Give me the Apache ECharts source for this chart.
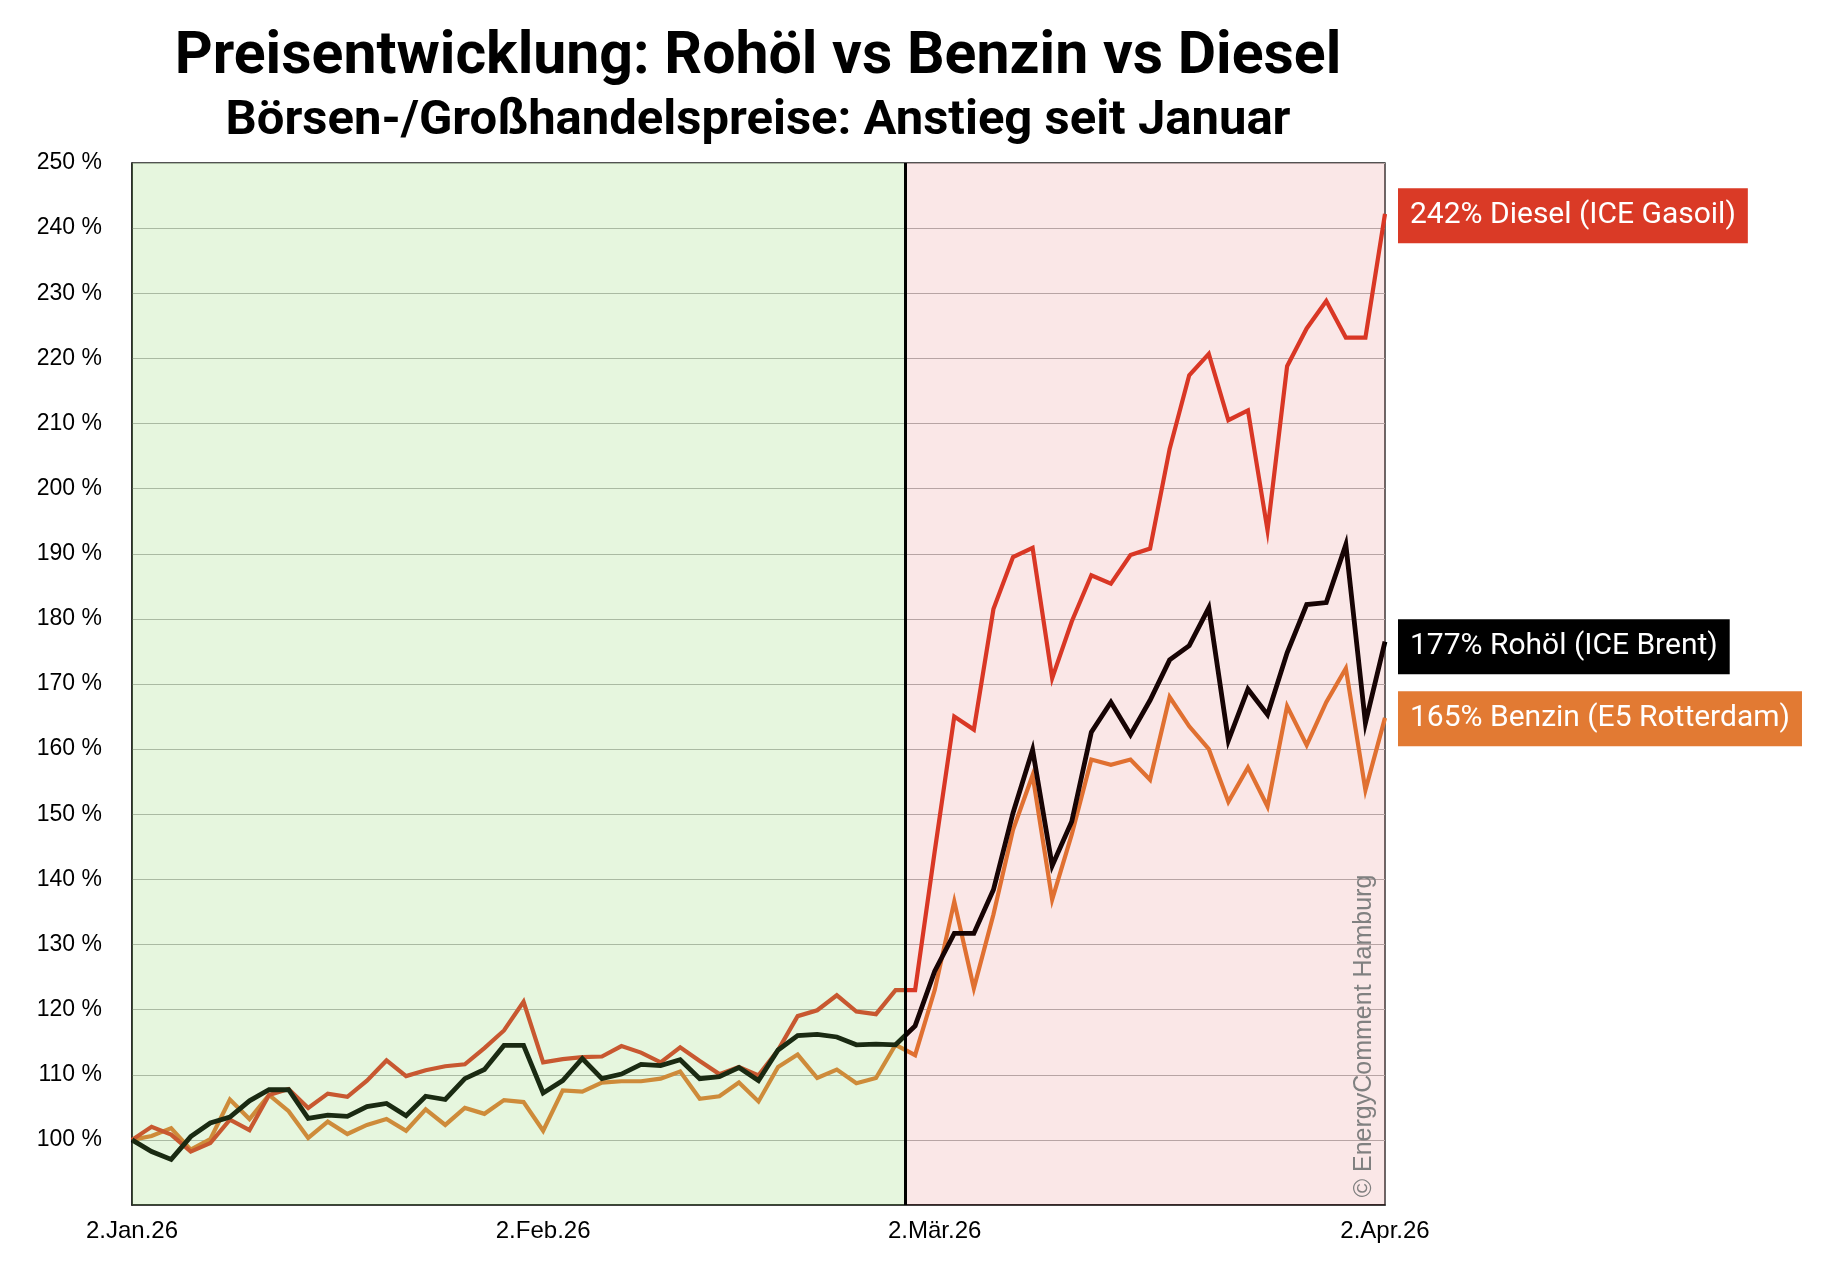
<!DOCTYPE html>
<html><head><meta charset="utf-8">
<script src="https://cdn.jsdelivr.net/npm/echarts@6/dist/echarts.min.js"></script>
<style>html,body{margin:0;padding:0;background:#fff}#c{width:1824px;height:1268px}</style>
</head><body><div id="c"></div>
<script>
// ---- data ----
const dates = [
  '2.Jan.26','5.Jan.26','6.Jan.26','7.Jan.26','8.Jan.26','9.Jan.26',
  '12.Jan.26','13.Jan.26','14.Jan.26','15.Jan.26','16.Jan.26',
  '19.Jan.26','20.Jan.26','21.Jan.26','22.Jan.26','23.Jan.26',
  '26.Jan.26','27.Jan.26','28.Jan.26','29.Jan.26','30.Jan.26',
  '2.Feb.26','3.Feb.26','4.Feb.26','5.Feb.26','6.Feb.26',
  '9.Feb.26','10.Feb.26','11.Feb.26','12.Feb.26','13.Feb.26',
  '16.Feb.26','17.Feb.26','18.Feb.26','19.Feb.26','20.Feb.26',
  '23.Feb.26','24.Feb.26','25.Feb.26','26.Feb.26','27.Feb.26',
  '2.Mär.26','3.Mär.26','4.Mär.26','5.Mär.26','6.Mär.26',
  '9.Mär.26','10.Mär.26','11.Mär.26','12.Mär.26','13.Mär.26',
  '16.Mär.26','17.Mär.26','18.Mär.26','19.Mär.26','20.Mär.26',
  '23.Mär.26','24.Mär.26','25.Mär.26','26.Mär.26','27.Mär.26',
  '30.Mär.26','31.Mär.26','1.Apr.26','2.Apr.26'
];
const diesel = [
  100, 102.0, 100.8, 98.2, 99.5, 103.1, 101.5, 106.9, 107.8, 104.9, 107.1,
  106.6, 109.1, 112.2, 109.8, 110.7, 111.3, 111.6, 114.1, 116.8, 121.2,
  111.9, 112.4, 112.7, 112.8, 114.4, 113.4, 111.9, 114.2, 112.1, 110.1,
  111.2, 109.9, 113.8, 119.0, 119.9, 122.2, 119.7, 119.3, 123.0, 123.0,
  144.3, 165.0, 163.0, 181.5, 189.5, 190.9, 170.9, 179.6, 186.7, 185.4,
  189.8, 190.8, 206.1, 217.4, 220.7, 210.5, 212.0, 193.6, 218.8, 224.6,
  228.8, 223.2, 223.2, 242.2
];
const rohoel = [
  100, 98.2, 97.0, 100.5, 102.6, 103.5, 106.0, 107.7, 107.7, 103.3, 103.8,
  103.6, 105.1, 105.6, 103.7, 106.7, 106.2, 109.4, 110.8, 114.5, 114.5,
  107.2, 109.1, 112.5, 109.4, 110.1, 111.6, 111.4, 112.3, 109.4, 109.7,
  111.1, 109.1, 113.8, 116.0, 116.2, 115.8, 114.6, 114.7, 114.6, 117.5,
  125.9, 131.7, 131.7, 138.4, 150.2, 159.9, 142.1, 148.9, 162.6, 167.2,
  162.2, 167.5, 173.7, 175.9, 181.7, 161.3, 169.2, 165.3, 174.8, 182.2,
  182.5, 191.4, 164.0, 176.5
];
const benzin = [
  100, 100.6, 101.8, 98.5, 100.1, 106.2, 103.2, 106.9, 104.4, 100.3, 102.8,
  100.9, 102.3, 103.2, 101.4, 104.7, 102.3, 104.9, 104.0, 106.1, 105.8,
  101.4, 107.6, 107.4, 108.8, 109.0, 109.0, 109.4, 110.5, 106.3, 106.7,
  108.8, 105.9, 111.2, 113.1, 109.5, 110.8, 108.7, 109.5, 114.6, 113.0,
  123.0, 136.6, 123.3, 134.6, 147.6, 156.0, 136.9, 146.9, 158.4, 157.6,
  158.4, 155.3, 168.0, 163.5, 160.0, 151.9, 157.2, 151.2, 166.6, 160.6,
  167.2, 172.4, 153.7, 164.8
];
const seriesNames = ['Benzin (E5 Rotterdam)', 'Diesel (ICE Gasoil)', 'Rohöl (ICE Brent)'];
const titleText = 'Preisentwicklung: Rohöl vs Benzin vs Diesel';
const subtitleText = 'Börsen-/Großhandelspreise: Anstieg seit Januar';
const watermarkText = '© EnergyComment Hamburg';
const phaseBoundary = 39.5; // category position between 26.Feb and 27.Feb
const lastIndex = dates.length - 1;

// ---- chart ----
const COL_DIESEL = '#da3a26', COL_BENZIN = '#e27a33', COL_ROH = '#000000';
const chart = echarts.init(document.getElementById('c'));

function lineSeries(name, data, color, width, z, labelShift) {
  return {
    name, type: 'line', data, xAxisIndex: 0, yAxisIndex: 0,
    showSymbol: false, symbol: 'none', z,
    lineStyle: { color, width, join: 'miter' },
    itemStyle: { color },
    endLabel: {
      show: true, distance: 13, offset: [0, labelShift],
      formatter: p => Math.round(p.value) + '% ' + name,
      color: '#fff', backgroundColor: color,
      fontFamily: 'Roboto', fontSize: 30, lineHeight: 35,
      padding: [10, 12, 10, 12]
    },
    animation: false
  };
}

chart.setOption({
  animation: false,
  backgroundColor: '#ffffff',
  grid: { left: 132, top: 163, width: 1253, height: 1042, show: true,
          borderColor: '#1a1a1a', borderWidth: 1.3, backgroundColor: 'transparent' },
  xAxis: [{
    type: 'category', data: dates, boundaryGap: false,
    axisLine: { show: true, lineStyle: { color: '#1a1a1a', width: 1.5 } },
    axisTick: { show: false },
    axisLabel: {
      interval: (i, v) => v.startsWith('2.'),
      color: '#000', fontFamily: 'Liberation Sans', fontSize: 24, margin: 14
    },
    splitLine: { show: false }
  }, {
    type: 'value', min: 0, max: lastIndex, show: false
  }],
  yAxis: {
    type: 'value', min: 90, max: 250, interval: 10,
    axisLine: { show: true, lineStyle: { color: '#1a1a1a', width: 1.5 } },
    axisTick: { show: false },
    axisLabel: {
      formatter: v => v < 100 ? '' : v + ' %',
      color: '#000', fontFamily: 'Liberation Sans', fontSize: 23, margin: 30
    },
    splitLine: { show: true, lineStyle: { color: '#b4b4b4', width: 1.2 } }
  },
  series: [
    lineSeries(seriesNames[0], benzin, COL_BENZIN, 4.2, 2, 1),
    lineSeries(seriesNames[1], diesel, COL_DIESEL, 4.2, 3, 2),
    lineSeries(seriesNames[2], rohoel, COL_ROH, 4.8, 4, 5),
    {
      type: 'line', data: [], xAxisIndex: 1, yAxisIndex: 0, z: 10, silent: true,
      markArea: {
        silent: true, z: 10,
        data: [
          [{ xAxis: 0, itemStyle: { color: 'rgba(130,210,90,0.2)' } }, { xAxis: phaseBoundary }],
          [{ xAxis: phaseBoundary, itemStyle: { color: 'rgba(205,40,40,0.11)' } }, { xAxis: lastIndex }]
        ]
      },
      markLine: {
        silent: true, z: 11, symbol: 'none', label: { show: false },
        lineStyle: { color: '#000', width: 3, type: 'solid' },
        data: [{ xAxis: phaseBoundary }]
      }
    }
  ],
  graphic: [
    { type: 'text', x: 758, y: 58, style: { text: titleText, fill: '#000',
      font: 'bold 59px Roboto', textAlign: 'center', textVerticalAlign: 'middle' } },
    { type: 'text', x: 758, y: 122, style: { text: subtitleText, fill: '#000',
      font: 'bold 49px Roboto', textAlign: 'center', textVerticalAlign: 'middle' } },
    { type: 'text', x: 1364, y: 1036, rotation: Math.PI / 2, z: 20,
      style: { text: watermarkText, fill: '#808080', font: '25px "Liberation Sans"',
      textAlign: 'center', textVerticalAlign: 'middle' } }
  ]
});
</script>
</body></html>
